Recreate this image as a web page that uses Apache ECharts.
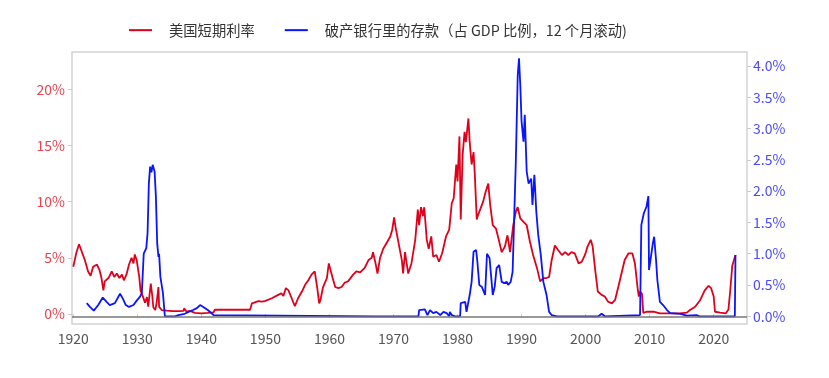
<!DOCTYPE html>
<html>
<head>
<meta charset="utf-8">
<script src="https://cdn.jsdelivr.net/npm/echarts@6/dist/echarts.min.js"></script>
<style>
  html, body { margin: 0; padding: 0; background: #fff; }
  #echart { width: 829px; height: 378px; }
</style>
</head>
<body>
<div id="echart"></div>
<script>
var rateName = '美国短期利率';
var depName = '破产银行里的存款（占 GDP 比例，12 个月滚动)';

var xTicks = [1920, 1930, 1940, 1950, 1960, 1970, 1980, 1990, 2000, 2010, 2020];
var leftTicks = [0, 5, 10, 15, 20];
var rightTicks = [0, 0.5, 1, 1.5, 2, 2.5, 3, 3.5, 4];

// 美国短期利率 (%)
var rateYears = [
  1920.0, 1920.5, 1920.9, 1921.2, 1921.8, 1922.3, 1922.7, 1923.1, 1923.7, 1924.1,
  1924.4, 1924.7, 1924.9, 1925.5, 1926.0, 1926.4, 1926.8, 1927.2, 1927.6, 1927.9,
  1928.3, 1928.7, 1929.1, 1929.4, 1929.6, 1929.9, 1930.3, 1930.5, 1930.9, 1931.2,
  1931.5, 1931.7, 1931.9, 1932.1, 1932.3, 1932.5, 1932.8, 1933.0, 1933.3, 1933.4,
  1933.8, 1934.0, 1934.6, 1935.5, 1936.5, 1937.2, 1937.3, 1937.7, 1938.2, 1939.0,
  1940.0, 1941.0, 1941.9, 1942.1, 1947.6, 1947.9, 1948.9, 1949.4, 1949.9, 1950.2,
  1951.0, 1952.0, 1952.5, 1952.8, 1953.2, 1953.6, 1954.1, 1954.6, 1955.1, 1955.7,
  1956.2, 1956.7, 1957.2, 1957.7, 1958.1, 1958.4, 1958.6, 1959.0, 1959.6, 1959.9,
  1960.2, 1960.5, 1960.9, 1961.4, 1961.9, 1962.4, 1962.9, 1963.7, 1964.2, 1964.8,
  1965.0, 1965.5, 1966.1, 1966.6, 1966.8, 1967.2, 1967.5, 1967.9, 1968.4, 1968.9,
  1969.5, 1969.8, 1970.1, 1970.3, 1970.7, 1971.3, 1971.5, 1971.8, 1972.3, 1972.8,
  1973.4, 1973.8, 1974.0, 1974.3, 1974.6, 1974.8, 1975.2, 1975.5, 1975.9, 1976.2,
  1976.7, 1977.1, 1977.6, 1978.2, 1978.7, 1979.1, 1979.4, 1979.8, 1980.0, 1980.3,
  1980.5, 1980.8, 1981.1, 1981.3, 1981.7, 1981.9, 1982.2, 1982.5, 1982.7, 1983.0,
  1983.2, 1983.6, 1984.0, 1984.4, 1984.8, 1985.1, 1985.5, 1986.0, 1986.4, 1986.9,
  1987.4, 1987.8, 1988.2, 1988.7, 1989.1, 1989.4, 1989.8, 1990.3, 1990.8, 1991.3,
  1991.8, 1992.4, 1992.9, 1993.4, 1993.9, 1994.3, 1994.7, 1995.2, 1995.7, 1996.3,
  1996.8, 1997.3, 1997.8, 1998.3, 1998.9, 1999.4, 1999.9, 2000.3, 2000.8, 2001.1,
  2001.5, 2001.9, 2002.5, 2003.0, 2003.5, 2004.1, 2004.6, 2005.1, 2005.6, 2006.1,
  2006.7, 2007.3, 2007.7, 2008.1, 2008.3, 2008.5, 2008.8, 2009.0, 2009.5, 2010.6,
  2011.6, 2013.2, 2014.7, 2015.8, 2016.3, 2017.1, 2017.9, 2018.6, 2019.2, 2019.6,
  2020.0, 2020.2, 2021.0, 2021.9, 2022.3, 2022.6, 2022.9, 2023.4
];
var rateValues = [
  4.2, 5.5, 6.2, 6.1, 4.8, 3.8, 3.4, 4.2, 4.4, 3.9,
  3.2, 2.1, 2.9, 3.2, 3.8, 3.3, 3.6, 3.2, 3.5, 3.0,
  3.5, 4.4, 5.0, 4.5, 5.3, 4.8, 3.3, 2.1, 1.5, 1.0,
  1.5, 0.65, 0.5, 2.7, 1.8, 0.6, 0.35, 0.95, 2.4, 0.65,
  0.35, 0.2, 0.3, 0.25, 0.25, 0.27, 0.5, 0.2, 0.27, 0.1,
  0.05, 0.1, 0.15, 0.38, 0.38, 0.95, 1.15, 1.1, 1.15, 1.25,
  1.4, 1.7, 1.85, 1.6, 2.3, 2.1, 1.4, 0.7, 1.4, 2.0,
  2.6, 3.0, 3.5, 3.8, 2.3, 0.95, 1.25, 2.4, 3.2, 4.5,
  4.4, 3.2, 2.4, 2.3, 2.4, 2.8, 2.9, 3.5, 3.8, 3.7,
  3.6, 4.1, 4.8, 5.0, 5.5, 4.5, 3.6, 5.0, 5.8, 6.3,
  6.9, 7.5, 8.6, 7.8, 6.6, 4.8, 3.6, 5.5, 3.6, 4.5,
  6.6, 9.3, 7.9, 9.5, 8.7, 9.5, 6.6, 5.8, 6.9, 5.1,
  5.25, 4.65, 5.4, 6.9, 7.5, 9.85, 10.3, 13.3, 11.8, 15.8,
  8.4, 14.2, 16.2, 15.3, 17.4, 15.3, 13.3, 14.4, 12.4, 8.4,
  8.8, 9.4, 10.0, 10.9, 11.6, 9.7, 7.9, 7.6, 6.7, 5.5,
  6.0, 7.0, 5.5, 7.9, 9.1, 9.5, 8.5, 8.2, 7.9, 6.45,
  5.25, 4.1, 2.9, 3.2, 3.2, 3.3, 4.8, 6.1, 5.7, 5.25,
  5.5, 5.25, 5.5, 5.4, 4.5, 4.65, 5.25, 6.0, 6.6, 6.0,
  3.9, 2.0, 1.7, 1.55, 1.1, 0.95, 1.25, 2.4, 3.6, 4.8,
  5.4, 5.4, 4.5, 2.4, 1.55, 2.0, 1.8, 0.1, 0.2, 0.2,
  0.06, 0.05, 0.06, 0.12, 0.35, 0.65, 1.25, 2.1, 2.5, 2.3,
  1.55, 0.2, 0.12, 0.06, 0.4, 2.2, 4.3, 5.25
];

// 破产银行里的存款 (% of GDP)
var depYears = [
  1922.1, 1922.6, 1923.2, 1923.9, 1924.6, 1925.2, 1925.7, 1926.5, 1927.3, 1927.7,
  1928.2, 1928.7, 1929.4, 1929.9, 1930.4, 1930.7, 1931.0, 1931.4, 1931.6, 1931.8,
  1932.0, 1932.2, 1932.4, 1932.7, 1932.9, 1933.1, 1933.3, 1933.4, 1933.6, 1934.0,
  1934.3, 1935.9, 1936.4, 1937.4, 1938.0, 1938.7, 1939.3, 1939.8, 1940.1, 1940.3,
  1940.6, 1941.0, 1941.3, 1941.9, 1942.1, 1967.0, 1967.2, 1967.5, 1971.2, 1971.4,
  1971.6, 1973.9, 1974.0, 1974.9, 1975.3, 1975.7, 1976.2, 1976.7, 1977.3, 1977.8,
  1978.3, 1978.7, 1978.8, 1979.1, 1979.6, 1980.4, 1980.5, 1981.2, 1981.4, 1981.7,
  1981.9, 1982.2, 1982.5, 1982.9, 1983.1, 1983.4, 1983.8, 1984.0, 1984.3, 1984.6,
  1985.0, 1985.3, 1985.5, 1985.8, 1986.1, 1986.5, 1986.9, 1987.3, 1987.7, 1987.9,
  1988.3, 1988.6, 1988.8, 1989.1, 1989.4, 1989.6, 1989.8, 1990.0, 1990.3, 1990.5,
  1990.8, 1991.1, 1991.5, 1991.7, 1992.0, 1992.3, 1992.6, 1993.0, 1993.4, 1993.9,
  1994.3, 1994.7, 1995.5, 2002.0, 2002.5, 2003.0, 2008.5, 2008.7, 2009.1, 2009.5,
  2009.8, 2009.9, 2010.2, 2010.5, 2010.7, 2011.0, 2011.2, 2011.6, 2012.1, 2012.7,
  2013.2, 2014.8, 2015.8, 2017.3, 2017.8, 2023.3, 2023.4
];
var depValues = [
  0.21, 0.15, 0.09, 0.18, 0.30, 0.23, 0.18, 0.21, 0.36, 0.29,
  0.18, 0.15, 0.18, 0.25, 0.31, 0.37, 1.0, 1.09, 1.33, 2.12,
  2.39, 2.30, 2.42, 2.31, 1.91, 1.17, 0.95, 1.0, 0.63, 0.37,
  0.0, 0.0, 0.02, 0.04, 0.07, 0.1, 0.13, 0.18, 0.21, 0.15,
  0.18, 0.1, 0.13, 0.02, 0.0, 0.0, 0.02, 0.0, 0.0, 0.02,
  0.0, 0.0, 0.1, 0.11, 0.02, 0.1, 0.05, 0.07, 0.02, 0.07,
  0.05, 0.0, 0.07, 0.02, 0.0, 0.0, 0.21, 0.23, 0.07, 0.07,
  0.34, 0.55, 1.03, 1.06, 0.87, 0.5, 0.47, 0.5, 0.34, 1.0,
  0.93, 0.95, 0.34, 0.47, 0.77, 0.82, 0.55, 0.53, 0.55, 0.5,
  0.55, 0.71, 1.41, 2.47, 3.85, 4.12, 3.69, 3.11, 2.79, 3.22,
  2.31, 2.12, 2.2, 1.78, 2.26, 1.67, 1.30, 0.98, 0.55, 0.34,
  0.07, 0.02, 0.0, 0.0, 0.04, 0.0, 0.02, 1.46, 1.65, 1.75,
  1.92, 0.74, 0.95, 1.17, 1.27, 0.9, 0.58, 0.23, 0.18, 0.1,
  0.05, 0.04, 0.01, 0.02, 0.0, 0.0, 0.98
];

function pairs(xs, ys) {
  var out = [];
  for (var i = 0; i < xs.length; i++) out.push([xs[i], ys[i]]);
  return out;
}

var myChart = echarts.init(document.getElementById('echart'));

var font = '"Noto Sans CJK SC", "Noto Sans", sans-serif';

option = {
  animation: false,
  textStyle: { fontFamily: font },
  legend: {
    left: 124,
    top: 18,
    itemWidth: 23,
    itemHeight: 2,
    itemGap: 30,
    icon: 'rect',
    textStyle: { fontSize: 14.3, color: '#333', fontFamily: font, padding: [0, 0, 0, 12] },
    data: [rateName, depName]
  },
  grid: {
    left: 72,
    right: 82,
    top: 52,
    bottom: 54,
    show: true,
    borderColor: '#d4d4d4',
    borderWidth: 1.5
  },
  xAxis: {
    type: 'value',
    min: 1919.8,
    max: 2025.2,
    splitLine: { show: false },
    axisLine: { show: false },
    axisTick: { show: true, length: 4, lineStyle: { color: '#ccc' }, customValues: xTicks },
    axisLabel: { color: '#555', fontSize: 14, margin: 8, customValues: xTicks, formatter: function (v) { return String(v); } }
  },
  yAxis: [
    {
      type: 'value',
      min: -0.89,
      max: 23.31,
      splitLine: { show: false },
      axisLine: { show: false },
      axisTick: { show: true, length: 4, lineStyle: { color: '#ccc' }, customValues: leftTicks },
      axisLabel: { color: '#e8434f', fontSize: 14, margin: 7, customValues: leftTicks, formatter: '{value}%' }
    },
    {
      type: 'value',
      min: -0.123,
      max: 4.222,
      position: 'right',
      splitLine: { show: false },
      axisLine: { show: false },
      axisTick: { show: true, length: 4, lineStyle: { color: '#ccc' }, customValues: rightTicks },
      axisLabel: { color: '#4a4aff', fontSize: 14, margin: 6, customValues: rightTicks,
        formatter: function (v) { return v.toFixed(1) + '%'; } }
    }
  ],
  series: [
    {
      name: rateName,
      type: 'line',
      yAxisIndex: 0,
      showSymbol: false,
      symbol: 'none',
      color: '#e0001b',
      lineStyle: { width: 1.8, color: '#e0001b' },
      data: pairs(rateYears, rateValues)
    },
    {
      name: depName,
      type: 'line',
      yAxisIndex: 1,
      showSymbol: false,
      symbol: 'none',
      color: '#0a14ff',
      lineStyle: { width: 1.8, color: '#0a14ff' },
      data: pairs(depYears, depValues),
      markLine: {
        silent: true,
        symbol: 'none',
        label: { show: false },
        lineStyle: { color: '#777', width: 1.5, type: 'solid' },
        data: [{ yAxis: 0 }]
      }
    }
  ]
};

myChart.setOption(option);
</script>
</body>
</html>
